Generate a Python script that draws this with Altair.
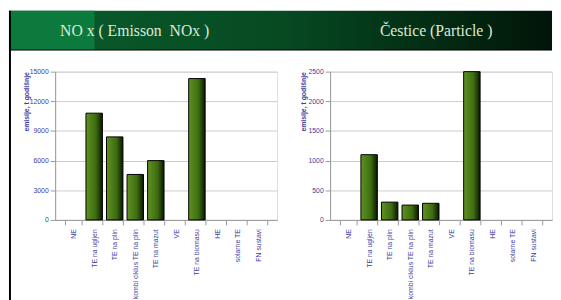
import altair as alt
import pandas as pd

categories = ["NE", "TE na ugljen", "TE na plin", "kombi ciklus TE na plin", "TE na mazut",
              "VE", "TE na biomasu", "HE", "solarne TE", "FN sustavi"]
nox_values = [0, 10800, 8400, 4600, 6000, 0, 14300, 0, 0, 0]
particle_values = [0, 1100, 300, 250, 280, 0, 2500, 0, 0, 0]
nox_ticks = [0, 3000, 6000, 9000, 12000, 15000]
particle_ticks = [0, 500, 1000, 1500, 2000, 2500]
header_left = "NO x ( Emisson \u00a0NOx )"
header_right = "Čestice (Particle )"
y_title = "emisije, t godišnje"
x_title = "elektrane"

LABEL = "#4040a0"
PW, PH = 226, 151

bar_fill = alt.Gradient(
    gradient="linear", x1=0, x2=1, y1=0, y2=0,
    stops=[alt.GradientStop(color="#5f9222", offset=0),
           alt.GradientStop(color="#3e6c12", offset=0.6),
           alt.GradientStop(color="#081800", offset=1)])

hdr_fill = alt.Gradient(
    gradient="linear", x1=0, x2=1, y1=0, y2=0,
    stops=[alt.GradientStop(color="#0b5e2c", offset=0),
           alt.GradientStop(color="#064a22", offset=0.5),
           alt.GradientStop(color="#011508", offset=1)])


def bar_chart(values, ticks, title_pad, with_header):
    df = pd.DataFrame({"cat": categories, "val": values})
    base = alt.Chart(df)
    bars = base.mark_bar(fill=bar_fill, stroke="#000000", strokeWidth=1).encode(
        x=alt.X("cat:N", sort=categories,
                scale=alt.Scale(domain=categories, paddingInner=0.2, paddingOuter=0.5),
                axis=alt.Axis(title=x_title, labelAngle=-90, labelFontSize=7, labelColor=LABEL,
                              titleFontSize=7, titleColor=LABEL, titleAnchor="end", titleX=PW - 18,
                              tickBand="extent", tickColor="#999999", domainColor="#999999",
                              labelPadding=4, labelFont="Liberation Sans", titleFont="Liberation Sans")),
        y=alt.Y("val:Q", scale=alt.Scale(domain=[0, max(ticks)], nice=False),
                axis=alt.Axis(title=y_title, values=ticks, format="d", labelFontSize=7, labelColor=LABEL,
                              titleFontSize=7, titleColor=LABEL, titlePadding=title_pad,
                              titleAnchor="end", gridColor="#cccccc", tickColor="#999999",
                              domainColor="#999999",
                              labelFont="Liberation Sans", titleFont="Liberation Sans")),
    ).transform_filter("datum.val > 0")
    layers = [bars]
    if with_header:
        one = pd.DataFrame({"a": [0]})
        layers += [
            alt.Chart(one).mark_rect(fill=hdr_fill).encode(
                x=alt.value(-47), x2=alt.value(506), y=alt.value(-62), y2=alt.value(-22)),
            alt.Chart(one).mark_rect(fill="#0d7a3d").encode(
                x=alt.value(-47), x2=alt.value(40), y=alt.value(-62), y2=alt.value(-22)),
            alt.Chart(one).mark_rule(color="#000000", strokeWidth=1).encode(
                x=alt.value(-47), x2=alt.value(506), y=alt.value(-22)),
            alt.Chart(one).mark_rule(color="#000000", strokeWidth=2).encode(
                x=alt.value(-46), y=alt.value(-62), y2=alt.value(PH + 90)),
            alt.Chart(one).mark_text(text=header_left, font="Liberation Serif", fontSize=16,
                                     color="#dcead8", align="center", baseline="middle").encode(
                x=alt.value(81), y=alt.value(-41)),
            alt.Chart(one).mark_text(text=header_right, font="Liberation Serif", fontSize=16,
                                     color="#dcead8", align="center", baseline="middle").encode(
                x=alt.value(388), y=alt.value(-41)),
        ]
    return alt.layer(*layers).properties(width=PW, height=PH)


left = bar_chart(nox_values, nox_ticks, 0, True)
right = bar_chart(particle_values, particle_ticks, 1, False)

chart = alt.hconcat(left, right, spacing=54, bounds="flush").properties(
    padding={"left": 0, "top": -2, "right": 0, "bottom": 0}
).configure_view(stroke=None).configure(background="#ffffff")

chart.save("out.html", embed_options={"renderer": "svg", "actions": False})
